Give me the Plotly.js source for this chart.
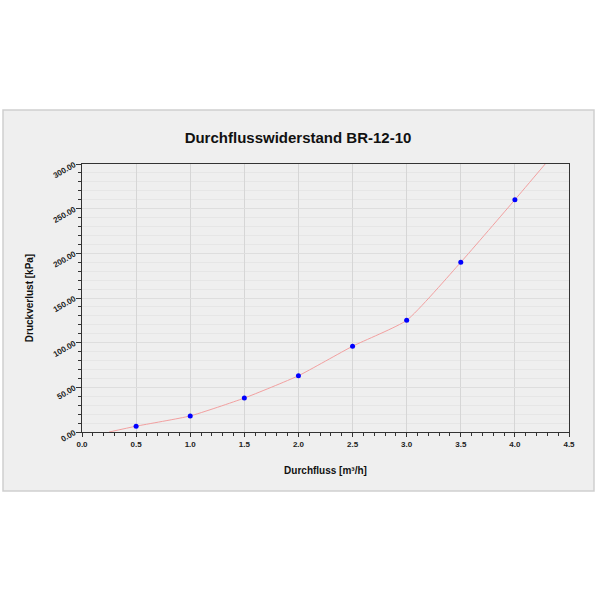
<!DOCTYPE html>
<html>
<head>
<meta charset="utf-8">
<script src="https://cdn.plot.ly/plotly-3.0.1.min.js"></script>
<style>html,body{margin:0;padding:0;background:#fff;}#chart{width:600px;height:600px;}</style>
</head>
<body>
<div id="chart"></div>
<script>
// Measured points
const flow = [0.5, 1.0, 1.5, 2.0, 2.5, 3.0, 3.5, 4.0];
const pressure = [6.5, 18, 38, 63, 96, 125, 190, 260];
// Fitted curve through the points (extends to the axes)
const curveFlow = [0.25, 0.5, 1.0, 1.5, 2.0, 2.5, 3.0, 3.5, 4.0, 4.28];
const curvePressure = [0, 6.5, 18, 38, 63, 96, 125, 190, 260, 300];
const xTickVals = [0, 0.5, 1, 1.5, 2, 2.5, 3, 3.5, 4, 4.5];
const xTickText = ["0.0","0.5","1.0","1.5","2.0","2.5","3.0","3.5","4.0","4.5"];
const yTickVals = [0, 50, 100, 150, 200, 250, 300];
const yTickText = ["0.00","50.00","100.00","150.00","200.00","250.00","300.00"];

const font = "Liberation Sans, Arial, sans-serif";
const traces = [
  {x: curveFlow, y: curvePressure, mode: "lines", type: "scatter",
   line: {color: "#f2a0a0", width: 1, shape: "spline", smoothing: 0.5},
   hoverinfo: "skip", showlegend: false, cliponaxis: true},
  {x: flow, y: pressure, mode: "markers", type: "scatter",
   marker: {color: "#0000ff", size: 5}, showlegend: false}
];
const layout = {
  width: 600, height: 600,
  paper_bgcolor: "#ffffff",
  plot_bgcolor: "#f7f7f7",
  margin: {l: 82, r: 31, t: 164, b: 168},
  title: {text: "<b>Durchflusswiderstand BR-12-10</b>", font: {family: font, size: 15, color: "#111"},
          x: 298/600, xref: "container", xanchor: "center", y: 1 - 138/600, yref: "container", yanchor: "middle"},
  xaxis: {range: [0, 4.5], tickvals: xTickVals, ticktext: xTickText,
    tickfont: {family: font, size: 8, color: "#222", weight: "bold"},
    showline: true, linecolor: "#333", linewidth: 1, mirror: true,
    ticks: "outside", ticklen: 4, tickcolor: "#333",
    showgrid: true, gridcolor: "#d6d6d6", gridwidth: 1, zeroline: false,
    minor: {dtick: 0.1, ticks: "outside", ticklen: 3, tickcolor: "#333", showgrid: false},
    title: {text: "<b>Durchfluss [m³/h]</b>", font: {family: font, size: 10, color: "#111"}, standoff: 19}},
  yaxis: {range: [0, 300], tickvals: yTickVals, ticktext: yTickText, tickangle: -30,
    tickfont: {family: font, size: 8, color: "#222", weight: "bold"},
    showline: true, linecolor: "#333", linewidth: 1, mirror: true,
    ticks: "outside", ticklen: 5, tickcolor: "#333",
    showgrid: true, gridcolor: "#dedede", gridwidth: 1, zeroline: false,
    minor: {dtick: 10, ticks: "outside", ticklen: 3, tickcolor: "#333", showgrid: true, gridcolor: "#e6e6e6"},
    title: {text: "<b>Druckverlust [kPa]</b>", font: {family: font, size: 10, color: "#111"}, standoff: 16}},
  shapes: [
    {type: "rect", xref: "paper", yref: "paper", layer: "below",
     x0: -79/487, x1: 1 + 25/487, y0: -(491-432)/268, y1: 1 + (164-110)/268,
     fillcolor: "#efefef", line: {color: "#cfcfcf", width: 1.5}}
  ]
};
Plotly.newPlot("chart", traces, layout, {displayModeBar: false, staticPlot: true});
</script>
</body>
</html>
